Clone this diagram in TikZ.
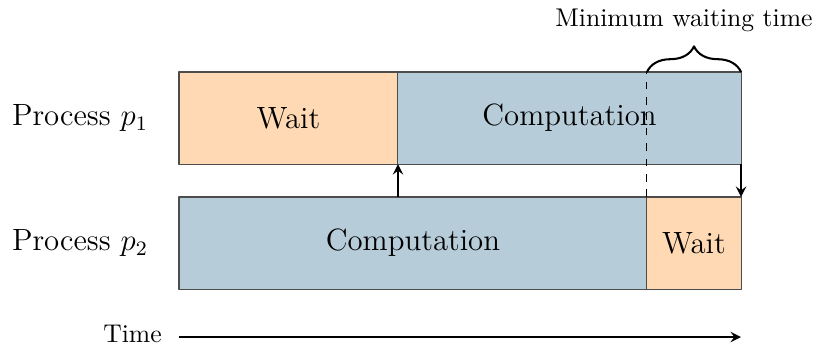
\documentclass[tikz,border=0pt]{standalone}
\usetikzlibrary{decorations.pathreplacing}
\definecolor{waitcol}{RGB}{255,217,179}
\definecolor{compcol}{RGB}{183,204,217}
\begin{document}
\begin{tikzpicture}[>=stealth, x=0.39pt, y=-0.39pt, line join=round,
    slot/.style={draw=black!70, anchor=north west, minimum height=35.9pt,
      inner sep=0pt, outer sep=0pt, font=\large},
    waitslot/.style={slot, fill=waitcol},
    compslot/.style={slot, fill=compcol}]
  \useasboundingbox (0,0) rectangle (825,351);
  % process p1
  \node[waitslot, minimum width=85.4pt] (w1) at (179,72) {Wait};
  \node[compslot, minimum width=133.8pt] (c1) at (w1.north east) {Computation};
  % process p2
  \node[compslot, minimum width=182.5pt] (c2) at (179,197) {Computation};
  \node[waitslot, minimum width=36.7pt] (w2) at (c2.north east) {Wait};
  \node[font=\large] (p1) at (80,118) {Process $p_1$};
  \node[font=\large] (p2) at (80,243) {Process $p_2$};
  % messages
  \draw[->, thick] (w1.south east |- c2.north) -- (w1.south east);
  \draw[->, thick] (c1.south east) -- (w2.north east);
  % waiting time
  \draw[dashed] (w2.north west) -- (w2.north west |- c1.north);
  \draw[thick, decorate, decoration={brace, amplitude=10pt}]
    (w2.north west |- c1.north) -- (c1.north east);
  \node (minwait) at (684,20) {Minimum waiting time};
  % time axis
  \node (time) at (132.5,334) {Time};
  \coordinate (tstart) at (179,337);
  \coordinate (tend) at (741,337);
  \draw[->, thick] (tstart) -- (tend);
\end{tikzpicture}
\end{document}
